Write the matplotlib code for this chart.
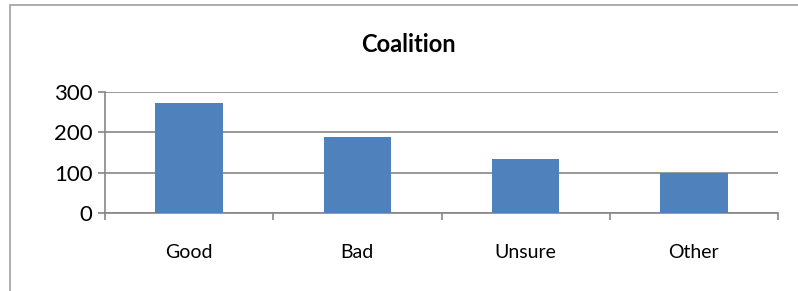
import matplotlib.pyplot as plt
from matplotlib.patches import Rectangle
import numpy as np

categories = ['Good', 'Bad', 'Unsure', 'Other']
values = [272, 188, 134, 99]
y_ticks = [0, 100, 200, 300]

plt.rcParams['font.family'] = ['Lato', 'DejaVu Sans']

fig = plt.figure(figsize=(7.98, 2.91), dpi=100)
fig.patches.append(Rectangle((10 / 798, -0.1), 1.0, 1.1 - 5 / 291, transform=fig.transFigure,
                             fill=False, edgecolor='#a0a0a0', linewidth=1.2))

ax = fig.add_axes([105 / 798, 1 - 213 / 291, (778 - 105) / 798, (213 - 92) / 291])
x = np.arange(len(categories))
ax.bar(x, values, width=0.4, color='#4f81bd', zorder=3)

ax.set_xlim(-0.5, len(categories) - 0.5)
ax.set_ylim(0, 300)
ax.set_yticks(y_ticks)
ax.set_yticklabels([str(t) for t in y_ticks], fontsize=16)
ax.yaxis.grid(True, color='#868686', linewidth=1.2, zorder=0)

ax.set_xticks(x)
ax.set_xticklabels(categories, fontsize=14)
ax.set_xticks(np.arange(-0.5, len(categories)), minor=True)
ax.tick_params(axis='x', which='major', length=0, pad=22)
ax.tick_params(axis='x', which='minor', length=5, color='#868686', width=1.2)
ax.tick_params(axis='y', length=5, color='#868686', width=1.2, pad=4)

for side in ['top', 'right']:
    ax.spines[side].set_visible(False)
for side in ['left', 'bottom']:
    ax.spines[side].set_color('#868686')
    ax.spines[side].set_linewidth(1.2)

fig.text(408 / 798, 1 - 44 / 291, 'Coalition', ha='center', va='center',
         fontsize=17, fontweight='bold')

fig.savefig('out.png', dpi=100)
